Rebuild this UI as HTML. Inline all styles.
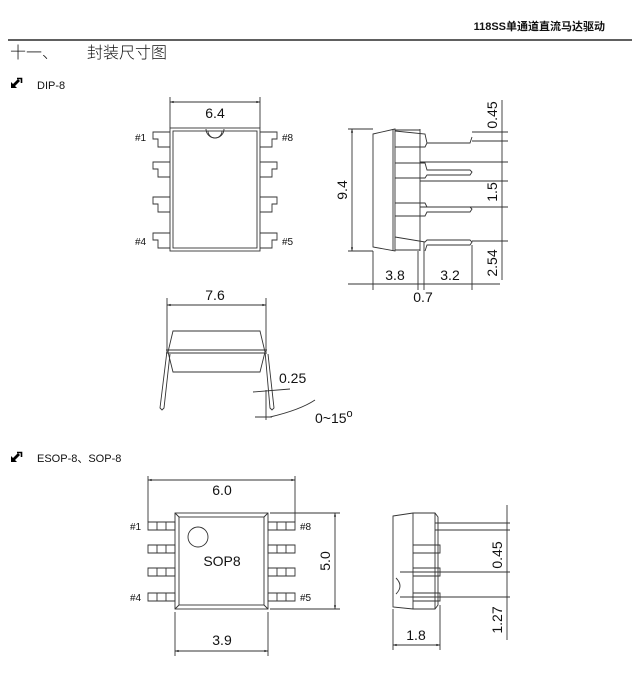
<!DOCTYPE html>
<html><head><meta charset="utf-8"><style>
html,body{margin:0;padding:0;background:#fff;width:632px;height:699px;overflow:hidden}
svg{display:block}
text{font-family:"Liberation Sans","Noto Sans CJK SC",sans-serif;fill:#111}
</style></head><body>
<svg width="632" height="699" viewBox="0 0 632 699" xmlns="http://www.w3.org/2000/svg">
<defs>
<marker id="a" viewBox="0 0 10 10" refX="10" refY="5" markerWidth="6" markerHeight="4" orient="auto-start-reverse"><path d="M0,2 L10,5 L0,8z" fill="#222"/></marker>
<g id="ic">
<path d="M11,88 L11,82 L13,84 L18,79 L20,81 L15,86 L17,88 Z" fill="#000"/>
<path d="M17,78.5 H21.5 V83" stroke="#000" stroke-width="1.6" fill="none"/>
</g>
</defs>
<text x="605" y="30" font-size="11" font-weight="bold" text-anchor="end">118SS单通道直流马达驱动</text>
<line x1="8" y1="40" x2="632" y2="40" stroke="#000" stroke-width="1.3"/>
<text x="10" y="58" font-size="16" style="font-family:'Noto Sans CJK SC',sans-serif;font-weight:300">十一、</text>
<text x="87" y="58" font-size="16" style="font-family:'Noto Sans CJK SC',sans-serif;font-weight:300">封装尺寸图</text>
<use href="#ic"/>
<text x="37" y="89" font-size="11">DIP-8</text>
<g stroke="#333" stroke-width="0.9" fill="none">
<!-- DIP top -->
<rect x="170" y="128" width="90" height="123"/>
<rect x="173" y="131" width="84" height="117"/>
<path d="M206,129 a9,9 0 0 0 18,0"/>
<path d="M208,131 a7,7 0 0 0 14,0"/>
<path d="M170,132 H153 V139 H158 V147 H170 M170,162 H153 V169 H158 V177 H170 M170,197 H153 V204 H158 V212 H170 M170,233 H153 V240 H158 V248 H170"/>
<path d="M260,132 H277 V139 H272 V147 H260 M260,162 H277 V169 H272 V177 H260 M260,197 H277 V204 H272 V212 H260 M260,233 H277 V240 H272 V248 H260"/>
<line x1="170" y1="97" x2="170" y2="128"/><line x1="260" y1="97" x2="260" y2="128"/>
<line x1="170" y1="102" x2="260" y2="102" marker-start="url(#a)" marker-end="url(#a)"/>
<!-- DIP side -->
<path d="M373,134 L395,129 V251 L373,247 Z"/>
<line x1="393" y1="129" x2="393" y2="251"/>
<path d="M395,130 H420 M395,250 H420"/>
<line x1="420" y1="129" x2="420" y2="251"/>
<path d="M395,131 L425,134 L427,143 H470 L472,137 M395,147 L425,147 L427,143"/>
<path d="M395,163 H425 L427,170 H470 L472,172 L470,175 H427 L425,178 H395"/>
<path d="M395,203 H425 L427,207 H470 L472,209 L470,212 H427 L425,216 H395"/>
<path d="M395,237 L425,242 L427,240 H470 L472,242 L470,245 H427 L425,251"/>
<line x1="352" y1="129" x2="352" y2="251" marker-start="url(#a)" marker-end="url(#a)"/>
<line x1="348" y1="129" x2="373" y2="129"/><line x1="348" y1="251" x2="373" y2="251"/>
<line x1="502" y1="100" x2="502" y2="280"/>
<path d="M472,132 H508 M472,141 H508 M420,162 H508 M420,181 H508 M420,207 H508 M472,241 H508"/>
<path d="M373,251 V290 M418,251 V290 M424,242 V290 M472,245 V290"/>
<line x1="348" y1="284" x2="500" y2="284"/>
<!-- DIP front -->
<line x1="167" y1="298" x2="167" y2="352"/><line x1="266" y1="298" x2="266" y2="352"/>
<line x1="167" y1="305" x2="266" y2="305" marker-start="url(#a)" marker-end="url(#a)"/>
<path d="M173,331 H260 L265,352 L260,372 H173 L168,352 Z"/>
<line x1="166" y1="350" x2="267" y2="350"/><line x1="166" y1="353" x2="267" y2="353"/>
<path d="M167,351 L160,408 L162,410 L164,408 L170,354"/>
<path d="M265,351 L270,408 L272,410 L274,408 L268,354"/>
<line x1="266" y1="390" x2="266" y2="420"/>
<line x1="253" y1="392" x2="290" y2="389"/>
<line x1="255" y1="417" x2="272" y2="417"/>
<path d="M270,417 Q300,410 315,400"/>
<!-- SOP top -->
<rect x="175" y="513" width="93" height="96"/>
<rect x="179" y="517" width="85" height="88"/>
<path d="M175,513 L179,517 M268,513 L264,517 M175,609 L179,605 M268,609 L264,605"/>
<circle cx="198" cy="537" r="10"/>
<path d="M148,522 H175 V530 H148 Z M157,522 V530 M166,522 V530 M148,545 H175 V553 H148 Z M157,545 V553 M166,545 V553 M148,568 H175 V576 H148 Z M157,568 V576 M166,568 V576 M148,593 H175 V601 H148 Z M157,593 V601 M166,593 V601"/>
<path d="M268,522 H295 V530 H268 Z M277,522 V530 M286,522 V530 M268,545 H295 V553 H268 Z M277,545 V553 M286,545 V553 M268,568 H295 V576 H268 Z M277,568 V576 M286,568 V576 M268,593 H295 V601 H268 Z M277,593 V601 M286,593 V601"/>
<line x1="148" y1="476" x2="148" y2="522"/><line x1="295" y1="476" x2="295" y2="522"/>
<line x1="148" y1="480" x2="295" y2="480" marker-start="url(#a)" marker-end="url(#a)"/>
<line x1="270" y1="513" x2="340" y2="513"/><line x1="270" y1="609" x2="340" y2="609"/>
<line x1="335" y1="513" x2="335" y2="609" marker-start="url(#a)" marker-end="url(#a)"/>
<line x1="175" y1="612" x2="175" y2="656"/><line x1="268" y1="612" x2="268" y2="656"/>
<line x1="175" y1="651" x2="268" y2="651" marker-start="url(#a)" marker-end="url(#a)"/>
<!-- SOP side -->
<path d="M393,516 L413,513 H435 L438,517 V605 L435,609 H413 L393,607 Z"/>
<line x1="413" y1="513" x2="413" y2="609"/><line x1="435" y1="513" x2="435" y2="609"/>
<path d="M435,523 H510 M435,530 H510"/>
<path d="M413,545 H440 V553 H413 M413,568 H440 V576 H413 M413,593 H440 V601 H413"/>
<line x1="400" y1="572" x2="510" y2="572"/><line x1="400" y1="597" x2="510" y2="597"/>
<line x1="507" y1="505" x2="507" y2="640"/>
<path d="M396,578 Q404,586 396,594"/>
<line x1="393" y1="609" x2="393" y2="650"/><line x1="440" y1="605" x2="440" y2="650"/>
<line x1="393" y1="645" x2="440" y2="645" marker-start="url(#a)" marker-end="url(#a)"/>
</g>
<g font-size="14">
<text x="215" y="118" text-anchor="middle">6.4</text>
<text x="395" y="280" text-anchor="middle">3.8</text>
<text x="450" y="280" text-anchor="middle">3.2</text>
<text x="423" y="302" text-anchor="middle">0.7</text>
<text transform="translate(347,190) rotate(-90)" text-anchor="middle">9.4</text>
<text transform="translate(497,115) rotate(-90)" text-anchor="middle">0.45</text>
<text transform="translate(497,192) rotate(-90)" text-anchor="middle">1.5</text>
<text transform="translate(497,263) rotate(-90)" text-anchor="middle">2.54</text>
<text x="215" y="300" text-anchor="middle">7.6</text>
<text x="279" y="383">0.25</text>
<text x="315" y="423">0~15<tspan font-size="11" dy="-6">o</tspan></text>
<text x="222" y="495" text-anchor="middle">6.0</text>
<text x="222" y="566" text-anchor="middle">SOP8</text>
<text transform="translate(330,561) rotate(-90)" text-anchor="middle">5.0</text>
<text x="222" y="645" text-anchor="middle">3.9</text>
<text x="416" y="640" text-anchor="middle">1.8</text>
<text transform="translate(502,555) rotate(-90)" text-anchor="middle">0.45</text>
<text transform="translate(502,620) rotate(-90)" text-anchor="middle">1.27</text>
</g>
<g font-size="10">
<text x="135" y="141">#1</text><text x="282" y="141">#8</text>
<text x="135" y="245">#4</text><text x="282" y="245">#5</text>
<text x="130" y="530">#1</text><text x="300" y="530">#8</text>
<text x="130" y="601">#4</text><text x="300" y="601">#5</text>
</g>
<use href="#ic" transform="translate(0,374)"/>
<text x="37" y="462" font-size="11">ESOP-8、SOP-8</text>
</svg>
</body></html>
